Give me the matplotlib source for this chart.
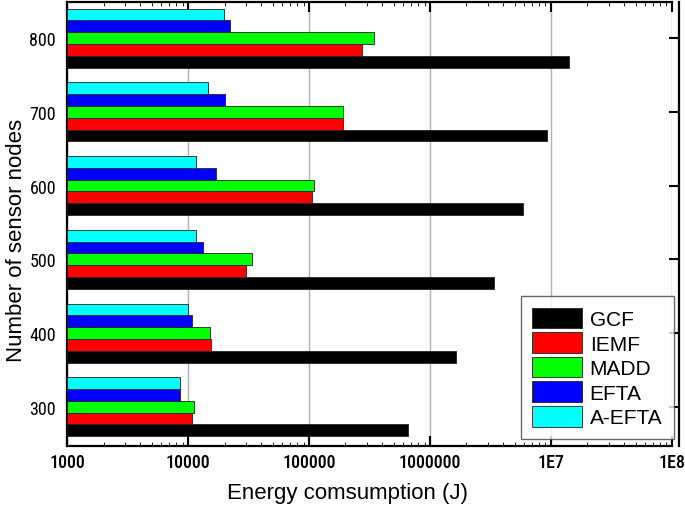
import numpy as np
import matplotlib
matplotlib.use('Agg')
import matplotlib.pyplot as plt

narrow = ['Roboto Condensed', 'Liberation Sans', 'DejaVu Sans']
plt.rcParams['font.family'] = narrow

nodes = [300, 400, 500, 600, 700, 800]
series = ['GCF', 'IEMF', 'MADD', 'EFTA', 'A-EFTA']
colors = ['#000000', '#ff0000', '#00ff00', '#0000ff', '#00ffff']

gcf = [661000, 1630000, 3350000, 5900000, 9340000, 14200000]
iemf = [9850, 14400, 29200, 105000, 188000, 271000]
madd = [10200, 14200, 32700, 109000, 191000, 342000]
efta = [7570, 9850, 12200, 16000, 19000, 21300]
a_efta = [7500, 8930, 10700, 10700, 13500, 18700]
values = [gcf, iemf, madd, efta, a_efta]

xticks = [1e3, 1e4, 1e5, 1e6, 1e7, 1e8]
xticklabels = ['1000', '10000', '100000', '1000000', '1E7', '1E8']

fig = plt.figure(figsize=(6.85, 5.06), dpi=100)
ax = fig.add_axes([0.098, 0.117, 0.883, 0.877])

h = 16
offsets = [-32, -16, 0, 16, 32]
y = np.array(nodes, dtype=float)
for vals, name, col, off in zip(values, series, colors, offsets):
    ax.barh(y + off, vals, height=h, left=1000, color=col, edgecolor='#222222',
            linewidth=0.6, label=name, zorder=3)

ax.set_xscale('log')
ax.set_xlim(1e3, 1e8)
ax.set_ylim(247, 849)
ax.set_xticks(xticks)
ax.set_xticklabels(xticklabels)
ax.set_yticks(nodes)
for t in ax.get_xticklabels() + ax.get_yticklabels():
    t.set_fontweight('medium')
ax.grid(axis='x', which='major', color='#b0b0b0', linewidth=1, zorder=0)
ax.tick_params(axis='both', which='major', direction='in', length=7, width=1.5,
               top=True, right=True, labelsize=13)
ax.tick_params(axis='x', which='minor', direction='in', length=3, top=True)
ax.tick_params(axis='y', pad=8)
ax.tick_params(axis='x', pad=5)
for s in ax.spines.values():
    s.set_linewidth(1.6)
ax.spines['right'].set_position(('outward', 5))

ax.set_xlabel('Energy comsumption (J)', fontsize=16, family=['Liberation Sans'])
ax.set_ylabel('Number of sensor nodes', fontsize=16, family=['Liberation Sans'])
ax.xaxis.set_label_coords(0.464, -0.081)
ax.yaxis.set_label_coords(-0.066, 0.466)

leg = ax.legend(loc='lower right', frameon=True, fancybox=False,
                edgecolor='#444444', handlelength=2.4, handleheight=1.15,
                borderpad=0.55, labelspacing=0.15, handletextpad=0.35,
                borderaxespad=0, bbox_to_anchor=(1.003, 0.016),
                prop={'family': ['Liberation Sans'], 'size': 15})
leg.get_frame().set_linewidth(1.0)
leg.set_zorder(5)

fig.savefig('out.png', dpi=100)
